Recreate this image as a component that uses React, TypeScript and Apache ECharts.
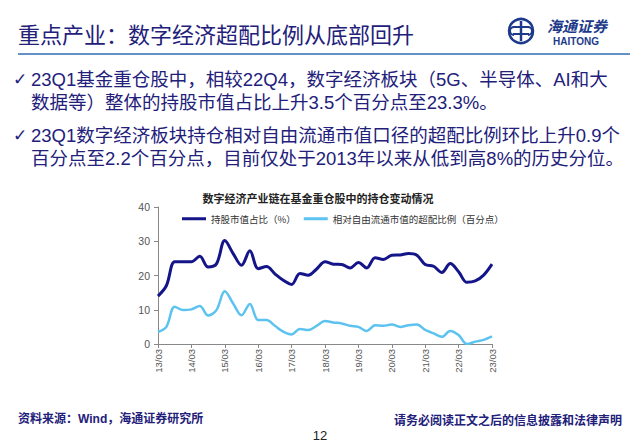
import React, { useEffect, useRef } from "react";
import * as echarts from "echarts";

const categories = [
  "13/03", "13/06", "13/09", "13/12",
  "14/03", "14/06", "14/09", "14/12",
  "15/03", "15/06", "15/09", "15/12",
  "16/03", "16/06", "16/09", "16/12",
  "17/03", "17/06", "17/09", "17/12",
  "18/03", "18/06", "18/09", "18/12",
  "19/03", "19/06", "19/09", "19/12",
  "20/03", "20/06", "20/09", "20/12",
  "21/03", "21/06", "21/09", "21/12",
  "22/03", "22/06", "22/09", "22/12",
  "23/03",
];

const holdingShare = [
  14.0, 17.0, 24.0, 24.0, 24.0, 25.6, 22.5, 23.4, 30.2, 26.4,
  23.0, 27.2, 22.0, 22.6, 20.5, 18.6, 17.4, 20.6, 20.1, 21.9,
  24.0, 23.3, 23.2, 22.2, 23.8, 22.2, 25.2, 24.7, 25.9, 26.0,
  26.4, 25.9, 23.2, 22.7, 20.9, 23.5, 21.1, 18.0, 18.4, 20.1,
  23.3,
];

const overweight = [
  3.5, 5.0, 10.9, 9.9, 10.1, 11.1, 8.3, 9.9, 15.4, 11.8,
  8.4, 11.7, 7.0, 7.0, 5.3, 3.6, 2.8, 4.4, 4.1, 5.3,
  6.7, 6.3, 6.0, 5.3, 5.0, 3.8, 5.5, 5.3, 5.7, 5.0,
  5.5, 5.7, 4.1, 3.1, 2.1, 3.8, 2.6, 0.0, 0.7, 1.2,
  2.2,
];

const seriesNames = ["持股市值占比（%）", "相对自由流通市值的超配比例（百分点）"];
const yTicks = { min: 0, max: 40, interval: 10 };

const pageTitle = "重点产业：数字经济超配比例从底部回升";
const chartTitle = "数字经济产业链在基金重仓股中的持仓变动情况";
const bulletLines = [
  "23Q1基金重仓股中，相较22Q4，数字经济板块（5G、半导体、AI和大",
  "数据等）整体的持股市值占比上升3.5个百分点至23.3%。",
  "23Q1数字经济板块持仓相对自由流通市值口径的超配比例环比上升0.9个",
  "百分点至2.2个百分点，目前仅处于2013年以来从低到高8%的历史分位。",
];
const sourceText = "资料来源：Wind，海通证券研究所";
const disclaimerText = "请务必阅读正文之后的信息披露和法律声明";
const pageNumber = "12";

const NAVY = "#22207a";
const FONT = "'Liberation Sans', 'Noto Sans CJK SC', sans-serif";
const CJK = "'Noto Sans CJK SC', sans-serif";

export default function App() {
  const ref = useRef<HTMLDivElement>(null);

  useEffect(() => {
    if (!ref.current) return;
    const chart = echarts.init(ref.current, undefined, { renderer: "svg" });

    const bulletY = [79, 102, 135, 158];
    const txt = (x: number, y: number, text: string, font: string, fill: string, align = "left") => ({
      type: "text",
      x,
      y,
      style: { text, font, fill, align, verticalAlign: "middle" },
    });
    const graphics: any[] = [
      txt(18, 33, pageTitle, `normal 22px ${CJK}`, NAVY),
      {
        type: "line",
        shape: { x1: 18, y1: 54, x2: 630, y2: 54 },
        style: { stroke: "#2f6db5", lineWidth: 1.5 },
      },
      // logo
      {
        type: "circle",
        shape: { cx: 521, cy: 31, r: 12 },
        style: { fill: "none", stroke: "#1d3a8a", lineWidth: 2.5 },
      },
      {
        type: "line",
        shape: { x1: 521, y1: 21, x2: 521, y2: 41 },
        style: { stroke: "#1d3a8a", lineWidth: 2.5 },
      },
      {
        type: "line",
        shape: { x1: 513, y1: 27, x2: 529, y2: 27 },
        style: { stroke: "#1d3a8a", lineWidth: 2 },
      },
      {
        type: "line",
        shape: { x1: 513, y1: 34, x2: 529, y2: 34 },
        style: { stroke: "#1d3a8a", lineWidth: 2 },
      },
      {
        type: "arc",
        shape: { cx: 514, cy: 31, r: 4, startAngle: Math.PI * 0.5, endAngle: Math.PI * 1.5 },
        style: { fill: "none", stroke: "#1d3a8a", lineWidth: 2 },
      },
      {
        type: "arc",
        shape: { cx: 528, cy: 31, r: 4, startAngle: -Math.PI * 0.5, endAngle: Math.PI * 0.5 },
        style: { fill: "none", stroke: "#1d3a8a", lineWidth: 2 },
      },
      txt(547, 25, "海通证券", `italic bold 15px ${CJK}`, "#1d3a8a"),
      txt(553, 41, "HAITONG", `bold 10px ${FONT}`, "#1d3a8a"),
      txt(318, 198, chartTitle, `bold 11px ${CJK}`, "#222", "center"),
      txt(18, 419, sourceText, `bold 12px ${FONT}`, NAVY),
      txt(622, 419, disclaimerText, `bold 12px ${CJK}`, NAVY, "right"),
      txt(320, 435, pageNumber, `normal 13px ${FONT}`, "#222", "center"),
    ];
    bulletLines.forEach((line, i) => {
      graphics.push(txt(31, bulletY[i], line, `normal 18.5px ${FONT}`, NAVY));
    });
    [0, 2].forEach((i) => {
      graphics.push(txt(13, bulletY[i], "✓", `normal 17px 'DejaVu Sans', sans-serif`, NAVY));
    });

    chart.setOption({
      animation: false,
      backgroundColor: "#ffffff",
      grid: { left: 158, right: 148, top: 207, bottom: 97, containLabel: false },
      legend: {
        left: 177,
        top: 209,
        icon: "rect",
        itemWidth: 24,
        itemHeight: 3,
        itemGap: 8,
        textStyle: { fontSize: 9.5, color: "#333", fontFamily: CJK },
        data: seriesNames,
      },
      xAxis: {
        type: "category",
        data: categories,
        boundaryGap: false,
        axisLine: { lineStyle: { color: "#888", width: 1 } },
        axisTick: { interval: 3, length: 4, lineStyle: { color: "#888" } },
        axisLabel: {
          interval: 3,
          rotate: 90,
          fontSize: 9.5,
          color: "#555",
          margin: 5,
          fontFamily: FONT,
        },
        splitLine: { show: false },
      },
      yAxis: {
        type: "value",
        min: yTicks.min,
        max: yTicks.max,
        interval: yTicks.interval,
        axisLine: { show: true, lineStyle: { color: "#888", width: 1 } },
        axisTick: { show: true, length: 4, lineStyle: { color: "#888" } },
        axisLabel: { fontSize: 10.5, color: "#555", margin: 8, fontFamily: FONT },
        splitLine: { show: false },
      },
      series: [
        {
          name: seriesNames[0],
          type: "line",
          data: holdingShare,
          smooth: 0.35,
          showSymbol: false,
          lineStyle: { color: "#15158a", width: 3 },
          itemStyle: { color: "#15158a" },
        },
        {
          name: seriesNames[1],
          type: "line",
          data: overweight,
          smooth: 0.35,
          showSymbol: false,
          lineStyle: { color: "#5cc3f0", width: 2.5 },
          itemStyle: { color: "#5cc3f0" },
        },
      ],
      graphic: graphics,
    });

    return () => chart.dispose();
  }, []);

  return (
    <div
      ref={ref}
      style={{ position: "absolute", left: 0, top: 0, width: 640, height: 441, background: "#fff" }}
    />
  );
}
